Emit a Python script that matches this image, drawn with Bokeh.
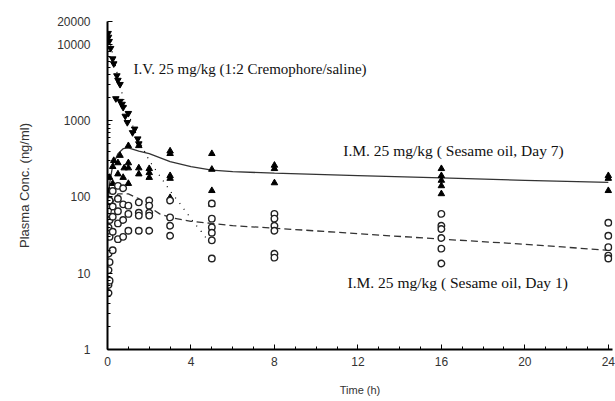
from bokeh.plotting import figure
from bokeh.models import Range1d, FixedTicker, Label
from bokeh.embed import file_html
from bokeh.resources import INLINE

# ---------------- data ----------------
x_ticks = [0, 4, 8, 12, 16, 20, 24]
y_ticks = [1, 10, 100, 1000, 10000, 20000]
y_tick_labels = ["1", "10", "100", "1000", "10000", "20000"]

# I.V. 25 mg/kg (Cremophore/saline) - filled inverted triangles
iv_t = [0.03, 0.05, 0.08, 0.15, 0.25, 0.3, 0.45, 0.5, 0.6, 0.4, 0.6, 0.7, 0.75, 0.85, 0.95, 1.2, 1.45, 1.5, 1.0, 1.3]
iv_c = [14000, 12500, 11000, 8900, 6500, 5600, 3900, 3400, 3000, 1950, 1800, 1650, 1500, 1150, 950, 700, 580, 500, 1250, 780]

# I.V. fitted curve (dotted)
ivfit_t = [0.0, 0.25, 0.5, 0.75, 1.0, 1.25, 1.5, 2.0, 2.5, 3.0, 3.5, 4.0, 4.5, 5.0]
ivfit_c = [15000, 7500, 3800, 2000, 1250, 800, 560, 300, 190, 120, 80, 52, 35, 23]

# I.M. Day 7 - filled triangles
d7_t = [0.08, 0.1, 0.25, 0.25, 0.3, 0.5, 0.5, 0.6, 0.75, 0.8, 1.0, 1.0, 1.0, 1.0,
        1.5, 1.5, 1.5, 2.0, 2.0, 2.0, 3.0, 3.0, 3.0, 3.0, 3.0, 5.0, 5.0, 5.0, 5.0,
        8.0, 8.0, 8.0, 16.0, 16.0, 16.0, 16.0, 16.0, 24.0, 24.0, 24.0]
d7_c = [120, 180, 150, 250, 300, 200, 280, 350, 180, 240, 470, 280, 240, 150,
        470, 240, 200, 235, 208, 180, 400, 370, 190, 175, 98, 370, 230, 121, 80,
        260, 235, 153, 235, 190, 165, 140, 110, 190, 175, 121]

# I.M. Day 7 fitted curve (solid)
d7fit_t = [0.05, 0.1, 0.25, 0.5, 0.75, 1.0, 1.5, 2.0, 3.0, 4.0, 5.0, 6.0, 8.0, 12.0, 16.0, 20.0, 24.0]
d7fit_c = [100, 150, 260, 370, 430, 440, 400, 370, 290, 250, 225, 215, 205, 190, 178, 165, 155]

# I.M. Day 1 - open circles
d1_t = [0.05, 0.05, 0.05, 0.05, 0.05, 0.1, 0.1, 0.1, 0.1, 0.1, 0.25, 0.25, 0.25, 0.25, 0.25,
        0.5, 0.5, 0.5, 0.5, 0.5, 0.75, 0.75, 0.75, 0.75, 1.0, 1.0, 1.0,
        1.5, 1.5, 1.5, 1.5, 2.0, 2.0, 2.0, 2.0, 2.0, 3.0, 3.0, 3.0, 3.0,
        5.0, 5.0, 5.0, 5.0, 5.0, 5.0, 8.0, 8.0, 8.0, 8.0, 8.0, 8.0,
        16.0, 16.0, 16.0, 16.0, 16.0, 16.0, 24.0, 24.0, 24.0, 24.0, 24.0]
d1_c = [5.5, 7, 11, 18, 40, 8, 14, 30, 50, 90, 20, 35, 55, 75, 120,
        28, 45, 65, 95, 140, 30, 50, 80, 130, 36, 60, 77,
        85, 62, 57, 36, 90, 77, 62, 57, 36, 90, 54, 42, 31,
        82, 52, 40, 34, 27, 15.6, 60, 52, 42, 36, 18, 16,
        60, 42, 38, 29, 21, 13.4, 46, 31, 22, 17, 15.6]

# I.M. Day 1 fitted curve (dashed)
d1fit_t = [0.05, 0.25, 0.5, 1.0, 1.5, 2.0, 2.5, 3.0, 4.0, 5.0, 6.0, 8.0, 12.0, 16.0, 20.0, 24.0]
d1fit_c = [40, 85, 110, 110, 95, 74, 60, 54, 48, 45, 42, 39, 33, 28, 24, 20]

label_iv = "I.V. 25  mg/kg (1:2 Cremophore/saline)"
label_d7 = "I.M. 25 mg/kg ( Sesame oil, Day 7)"
label_d1 = "I.M. 25 mg/kg ( Sesame oil, Day 1)"

# ---------------- figure ----------------
p = figure(width=615, height=401, output_backend="svg", toolbar_location=None,
           y_axis_type="log",
           x_range=Range1d(0, 24.2), y_range=Range1d(1, 20000),
           min_border_left=107, min_border_right=3, min_border_top=21, min_border_bottom=52)
p.outline_line_color = None
p.xgrid.visible = False
p.ygrid.visible = False
p.background_fill_color = "white"
p.border_fill_color = "white"

p.line(ivfit_t, ivfit_c, line_color="black", line_width=1.2, line_dash="1 6")
p.line(d7fit_t, d7fit_c, line_color="#333333", line_width=1.3)
p.line(d1fit_t, d1fit_c, line_color="#333333", line_width=1.3, line_dash="7 4")

p.scatter(iv_t, iv_c, marker="inverted_triangle", size=6.5, fill_color="black", line_color="black")
p.scatter(d7_t, d7_c, marker="triangle", size=6.5, fill_color="black", line_color="black")
p.scatter(d1_t, d1_c, marker="circle", size=6.5, fill_color="white", line_color="#222222", line_width=1.4)

# axes
xa = p.xaxis[0]
xa.ticker = FixedTicker(ticks=x_ticks, minor_ticks=list(range(0, 25)))
xa.axis_label = "Time (h)"
ya = p.yaxis[0]
minor = [m * 10 ** k for k in range(0, 4) for m in range(2, 10)]
ya.ticker = FixedTicker(ticks=y_ticks, minor_ticks=minor)
ya.major_label_overrides = {t: s for t, s in zip(y_ticks, y_tick_labels)}
ya.axis_label = "Plasma Conc. (ng/ml)"

for ax in (xa, ya):
    ax.axis_line_color = "black"
    ax.axis_line_width = 2
    ax.major_tick_line_color = "black"
    ax.minor_tick_line_color = "black"
    ax.major_tick_in = 5
    ax.major_tick_out = 0
    ax.minor_tick_in = 3
    ax.minor_tick_out = 0
    ax.major_label_text_font = "Liberation Sans"
    ax.major_label_text_font_size = "12px"
    ax.major_label_text_color = "#333333"
    ax.axis_label_text_font = "Liberation Sans"
    ax.axis_label_text_font_style = "normal"
    ax.axis_label_text_color = "#333333"

xa.major_label_standoff = 7
xa.axis_label_text_font_size = "11px"
xa.axis_label_standoff = 15
ya.major_label_standoff = 17
ya.axis_label_text_font_size = "13px"
ya.axis_label_standoff = 22

for txt, tx, ty, fs in [(label_iv, 1.25, 4800, "15px"),
                        (label_d7, 11.3, 405, "15.5px"),
                        (label_d1, 11.5, 7.55, "15.5px")]:
    p.add_layout(Label(x=tx, y=ty, text=txt, text_font="Liberation Serif",
                       text_font_size=fs, text_color="#111111", text_baseline="middle"))

open("out.html", "w").write(file_html(p, INLINE))
